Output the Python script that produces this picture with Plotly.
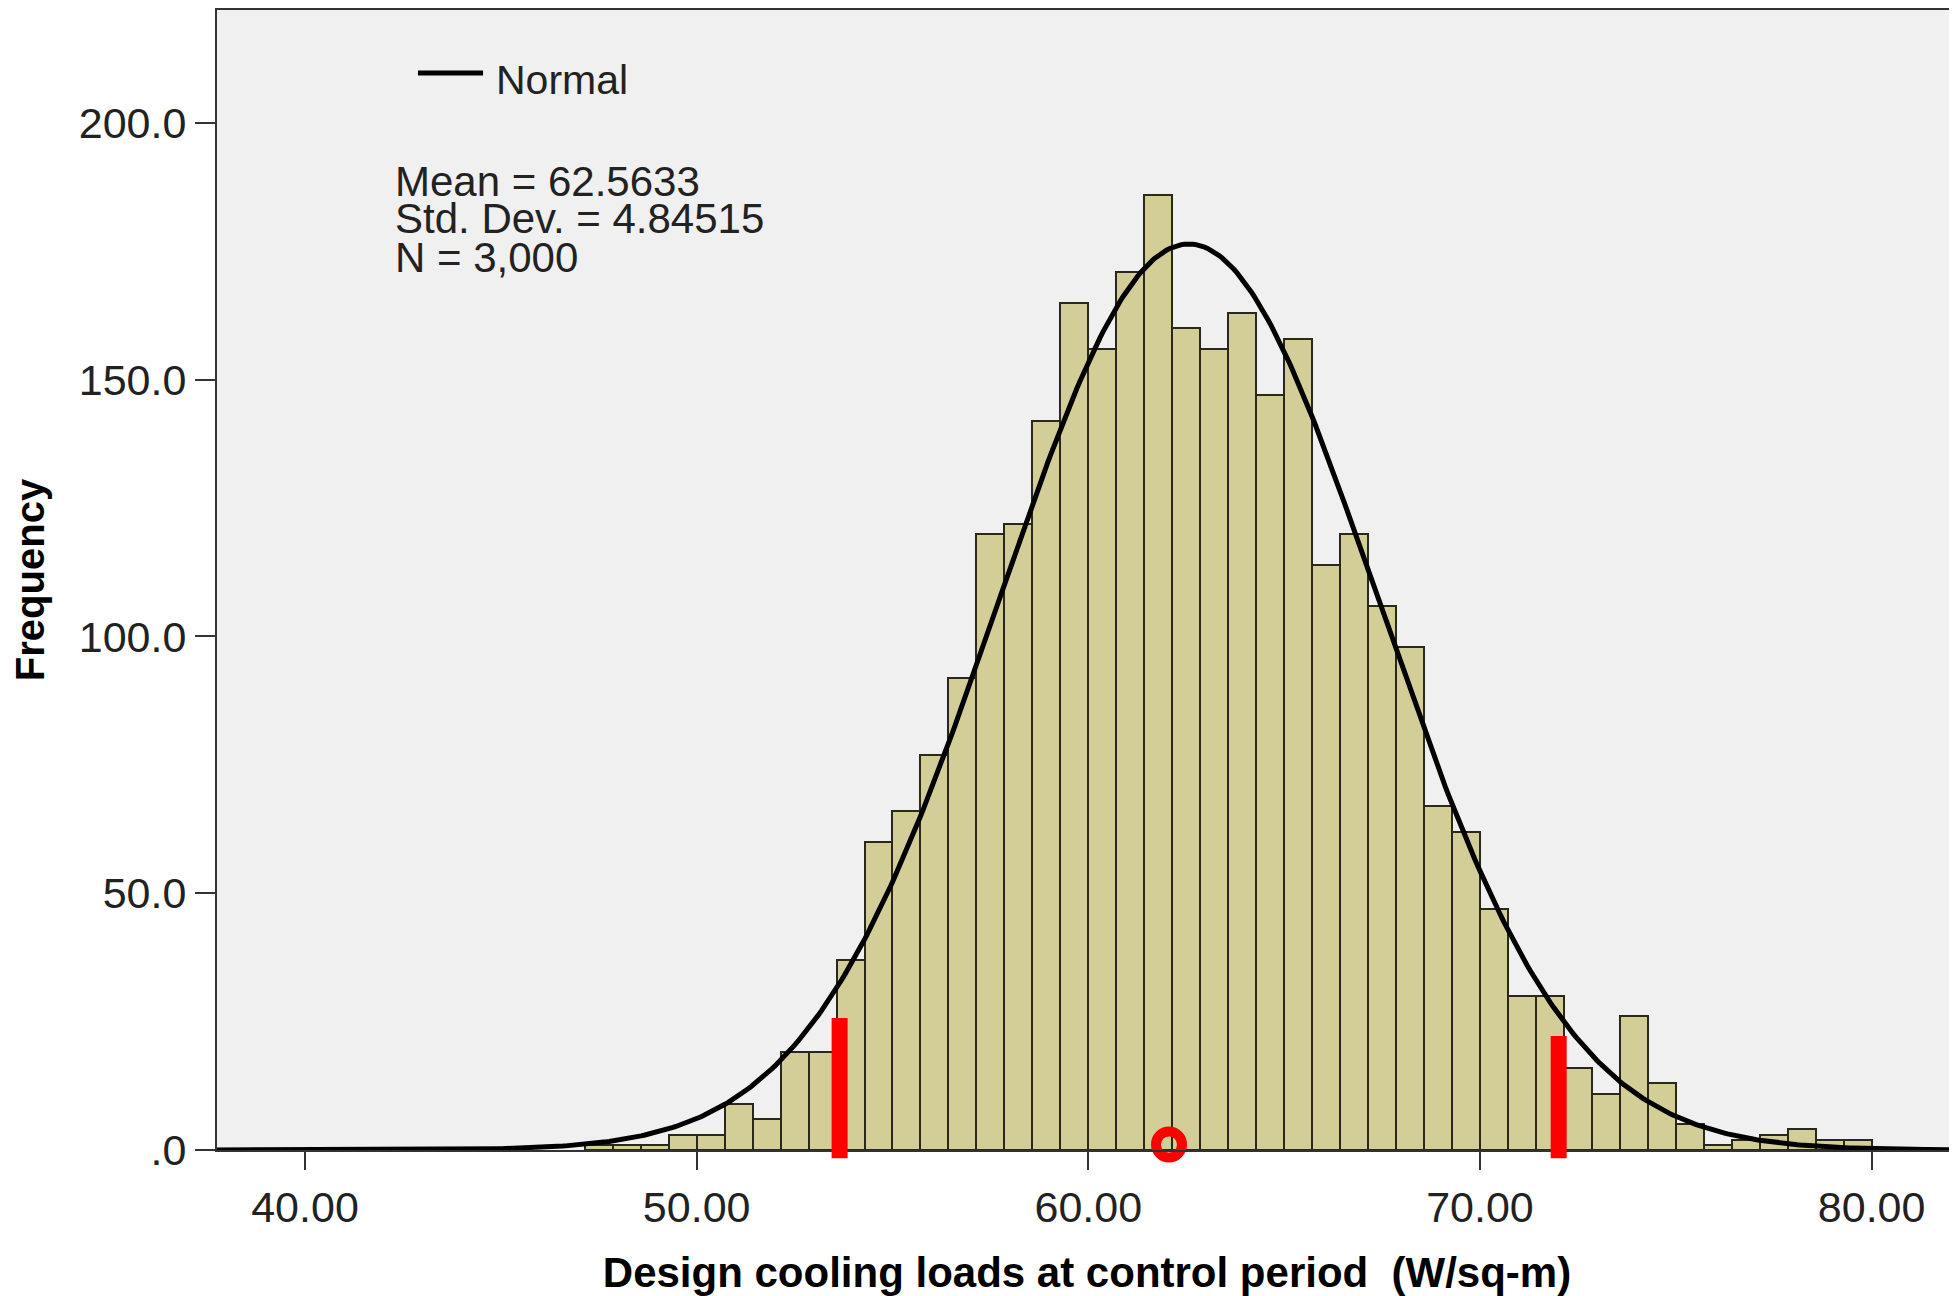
import numpy as np
import plotly.graph_objects as go

# ---------------- data ----------------
BIN_START = 50 - 20 / 7          # first bin edge
BIN_WIDTH = 5 / 7                # bin width
counts = [1, 1, 1, 3, 3, 9, 6, 19, 19, 37, 60, 66, 77, 92, 120, 122, 142, 165,
          156, 171, 186, 160, 156, 163, 147, 158, 114, 120, 106, 98, 67, 62,
          47, 30, 30, 16, 11, 26, 13, 5, 1, 2, 3, 4, 2, 2]
MEAN = 62.5633
STD = 4.84515
N = 3000

x_tickvals = [40, 50, 60, 70, 80]
x_ticktext = ["40.00", "50.00", "60.00", "70.00", "80.00"]
y_tickvals = [0, 50, 100, 150, 200]
y_ticktext = [".0", "50.0", "100.0", "150.0", "200.0"]

# red highlight marks drawn on the original picture
red_bar_x = [53.65, 72.01]
red_bar_top = [25.7, 22.2]
red_bar_bottom = -1.6
red_circle_x = [62.06]
red_circle_y = [1.07]

X_RANGE = [37.753, 82.18]
Y_RANGE = [0, 222.0]

FONT = "Liberation Sans, Arial, sans-serif"

bin_centers = [BIN_START + BIN_WIDTH * (i + 0.5) for i in range(len(counts))]

curve_x = np.linspace(X_RANGE[0], X_RANGE[1], 600)
curve_y = N * BIN_WIDTH / (STD * np.sqrt(2 * np.pi)) * np.exp(-0.5 * ((curve_x - MEAN) / STD) ** 2)

fig = go.Figure()
fig.add_trace(go.Bar(
    x=bin_centers, y=counts, width=BIN_WIDTH,
    marker=dict(color="#D3CE98", line=dict(color="#2a2818", width=2)),
    showlegend=False, name="Frequency",
))
fig.add_trace(go.Scatter(
    x=curve_x, y=curve_y, mode="lines",
    line=dict(color="black", width=5), name="Normal", showlegend=False,
))
fig.add_trace(go.Scatter(
    x=red_circle_x, y=red_circle_y, mode="markers", cliponaxis=False,
    marker=dict(symbol="circle-open", size=26, color="red", line=dict(color="red", width=10)),
    showlegend=False, hoverinfo="skip",
))

shapes = []
half_w = 8 / 39.167
for xv, top in zip(red_bar_x, red_bar_top):
    shapes.append(dict(type="rect", xref="x", yref="paper",
                       x0=xv - half_w, x1=xv + half_w,
                       y0=red_bar_bottom / Y_RANGE[1], y1=top / Y_RANGE[1],
                       fillcolor="red", line=dict(width=0), layer="above"))
# legend sample line
shapes.append(dict(type="line", xref="paper", yref="paper",
                   x0=0.1155, x1=0.1529, y0=0.9447, y1=0.9447,
                   line=dict(color="black", width=5)))

annotations = [
    dict(text="Normal", xref="paper", yref="paper", x=0.1592, y=0.939,
         xanchor="left", yanchor="middle", showarrow=False,
         font=dict(family=FONT, size=41, color="#222")),
    dict(text="Mean = 62.5633", xref="paper", yref="paper", x=0.101, y=0.850,
         xanchor="left", yanchor="middle", showarrow=False,
         font=dict(family=FONT, size=42, color="#222")),
    dict(text="Std. Dev. = 4.84515", xref="paper", yref="paper", x=0.101, y=0.817,
         xanchor="left", yanchor="middle", showarrow=False,
         font=dict(family=FONT, size=42, color="#222")),
    dict(text="N = 3,000", xref="paper", yref="paper", x=0.101, y=0.783,
         xanchor="left", yanchor="middle", showarrow=False,
         font=dict(family=FONT, size=42, color="#222")),
]

# the page body adds an 8px offset; figure size and margins compensate for it
fig.update_layout(
    width=1949, height=1288,
    margin=dict(l=209, r=0, t=2, b=146),
    paper_bgcolor="white", plot_bgcolor="#F0F0F0",
    bargap=0, shapes=shapes, annotations=annotations,
    font=dict(family=FONT, color="#222"),
)
fig.update_xaxes(
    range=X_RANGE, tickvals=x_tickvals, ticktext=x_ticktext, automargin=False,
    ticks="outside", ticklen=18, tickwidth=2, tickcolor="#333",
    showline=True, linecolor="#333", linewidth=2, mirror=True,
    showgrid=False, zeroline=False,
    tickfont=dict(family=FONT, size=43, color="#222"),
    title=dict(text="Design cooling loads at control period  (W/sq-m)", standoff=34,
               font=dict(family=FONT, size=42, color="black", weight="bold")),
)
fig.update_yaxes(
    range=Y_RANGE, tickvals=y_tickvals, ticktext=y_ticktext, automargin=False,
    ticks="outside", ticklen=20, tickwidth=2, tickcolor="#333",
    showline=True, linecolor="#333", linewidth=2, mirror=False,
    showgrid=False, zeroline=False,
    tickfont=dict(family=FONT, size=43, color="#222"),
    title=dict(text="Frequency", standoff=24,
               font=dict(family=FONT, size=40, color="black", weight="bold")),
)

fig.write_html("out.html")
